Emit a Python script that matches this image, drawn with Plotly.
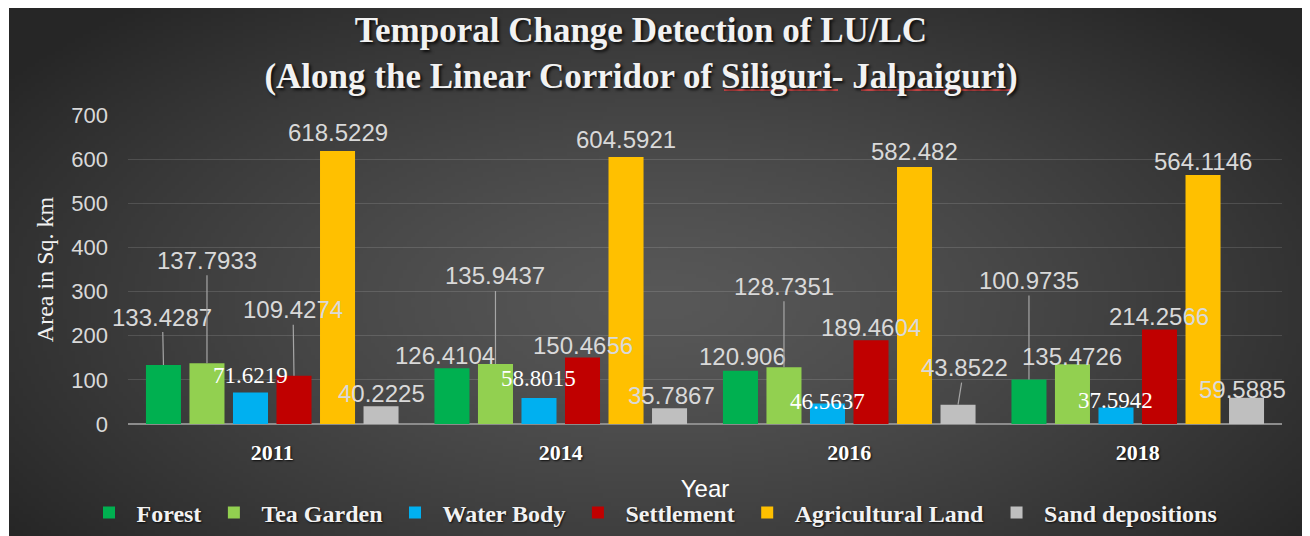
import base64
import struct
import zlib

import numpy as np
import plotly.graph_objects as go

# ---------------- data ----------------
years = ["2011", "2014", "2016", "2018"]
series_names = ["Forest", "Tea Garden", "Water Body", "Settlement",
                "Agricultural Land", "Sand depositions"]
forest = [133.4287, 126.4104, 120.906, 100.9735]
tea_garden = [137.7933, 135.9437, 128.7351, 135.4726]
water_body = [71.6219, 58.8015, 46.5637, 37.5942]
settlement = [109.4274, 150.4656, 189.4604, 214.2566]
agricultural_land = [618.5229, 604.5921, 582.482, 564.1146]
sand_depositions = [40.2225, 35.7867, 43.8522, 59.5885]
y_ticks = [0, 100, 200, 300, 400, 500, 600, 700]

series_values = [forest, tea_garden, water_body, settlement,
                 agricultural_land, sand_depositions]

# ---------------- styles ----------------
colors = ["#00B050", "#92D050", "#00B0F0", "#C00000", "#FFC000", "#BFBFBF"]

W, H = 1310, 536
OFF = 8  # page body margin offset of the figure on screen
ML, MR, MT, MB = 128 - OFF, 28 + OFF, 115 - OFF, 112 + OFF
plot_w = W - ML - MR
plot_h = H - MT - MB

BARGAP = 0.095
BARGROUPGAP = 0.195
cat_w = plot_w / len(years)
slot_w = cat_w * (1 - BARGAP) / len(series_names)

# label offsets (px) of label centre relative to bar top centre: (dx, dy, leader)
label_layout = {
    0: [(-1, -48, True), (-7, -13, False), (2, -14, False), (0, -99, True)],
    1: [(0, -103, True), (0, -88, True), (0, -81, True), (0, -8, False)],
    2: [(0, -17, False), (0, -20, False), (0, -2, False), (0, -7, False)],
    3: [(-1, -66, True), (0, -12, False), (0, -13, False), (-1, -13, False)],
    4: [(0, -18, False), (0, -18, False), (0, -15, False), (0, -13, False)],
    5: [(0, -13, False), (2, -13, False), (6, -37, True), (-4, -8, False)],
}
serif_label_series = {2}


# ---------------- background gradient image ----------------
def make_png(arr):
    h, w, _ = arr.shape
    raw = b"".join(b"\x00" + arr[r].tobytes() for r in range(h))

    def chunk(tag, data):
        c = struct.pack(">I", len(data)) + tag + data
        return c + struct.pack(">I", zlib.crc32(tag + data) & 0xFFFFFFFF)

    png = b"\x89PNG\r\n\x1a\n"
    png += chunk(b"IHDR", struct.pack(">IIBBBBB", w, h, 8, 2, 0, 0, 0))
    png += chunk(b"IDAT", zlib.compress(raw, 9))
    png += chunk(b"IEND", b"")
    return "data:image/png;base64," + base64.b64encode(png).decode()


gw, gh = 327, 132
gx = np.linspace(0, 1, gw)[None, :]
gy = np.linspace(0, 1, gh)[:, None]
d = np.sqrt(((gx - 0.5) / 0.62) ** 2 + ((gy - 0.55) / 0.75) ** 2)
d = np.clip(d, 0, 1)
inner, outer = 88.0, 38.0
val = inner + (outer - inner) * d ** 1.3
img = np.repeat(val[:, :, None], 3, axis=2).astype(np.uint8)
bg_src = make_png(np.ascontiguousarray(img))


# screen pixel -> paper coordinates
def px_x(p):
    return (p - OFF - ML) / plot_w


def px_y(p):
    return (H - MB - (p - OFF)) / plot_h


# ---------------- figure ----------------
fig = go.Figure()
for name, vals, col in zip(series_names, series_values, colors):
    fig.add_trace(go.Bar(name=name, x=years, y=vals, marker_color=col,
                         marker_line_width=0))

annotations = []
for k, vals in enumerate(series_values):
    offset = (k - (len(series_names) - 1) / 2) * slot_w
    for c, v in enumerate(vals):
        dx, dy, leader = label_layout[k][c]
        serif = k in serif_label_series
        font = dict(family="Liberation Serif, Times New Roman, serif",
                    size=23, color="#FFFFFF") if serif else \
            dict(family="Arial, Liberation Sans, sans-serif", size=24,
                 color="#D9D9D9")
        txt = str(v)
        if leader:
            annotations.append(dict(
                x=c, y=v, xref="x", yref="y", text=txt,
                showarrow=True, arrowhead=0, arrowwidth=1.2,
                arrowcolor="#A6A6A6", ax=dx, ay=dy, axref="pixel",
                ayref="pixel", xshift=offset, font=font, standoff=0,
                startstandoff=0))
        else:
            annotations.append(dict(
                x=c, y=v, xref="x", yref="y", text=txt,
                showarrow=False, xshift=offset + dx, yshift=-dy,
                xanchor="center", yanchor="middle", font=font))

# spell-check style underlines beneath the place names in the title
underline_spans = [(724, 838), (861, 1013)]
shapes = [dict(type="line", xref="paper", yref="paper", layer="above",
               x0=px_x(a), x1=px_x(b), y0=px_y(90), y1=px_y(90),
               line=dict(color="rgba(210,70,70,0.9)", width=2))
          for a, b in underline_spans]

fig.update_layout(
    width=W, height=H,
    margin=dict(l=ML, r=MR, t=MT, b=MB, pad=0, autoexpand=False),
    paper_bgcolor="#FFFFFF",
    plot_bgcolor="rgba(0,0,0,0)",
    barmode="group", bargap=BARGAP, bargroupgap=BARGROUPGAP,
    title=dict(
        text="Temporal Change Detection of LU/LC<br>(Along the Linear Corridor of Siliguri- Jalpaiguri)",
        x=(641 - OFF) / W, xref="container", xanchor="center",
        y=1 - 34 / H, yref="container", yanchor="middle",
        font=dict(family="Liberation Serif, Times New Roman, serif", size=35,
                  color="#F2F2F2", weight="bold",
                  shadow="2px 2px 3px rgba(0,0,0,0.8)")),
    xaxis=dict(
        type="category", range=[-0.5, 3.5], automargin=False,
        showgrid=False, showline=False, zeroline=False,
        ticks="", ticklabelstandoff=13,
        tickfont=dict(family="Liberation Serif, Times New Roman, serif",
                      size=22, color="#FFFFFF", weight="bold",
                      shadow="1px 1px 2px rgba(0,0,0,0.8)"),
        title=dict(text="Year", standoff=16,
                   font=dict(family="Arial, Liberation Sans, sans-serif",
                             size=24, color="#FFFFFF"))),
    yaxis=dict(
        range=[0, 700], tickvals=y_ticks, automargin=False, showgrid=True,
        gridcolor="rgba(255,255,255,0.13)", gridwidth=1,
        zeroline=True, zerolinecolor="#8C8C8C", zerolinewidth=2,
        showline=False, ticks="", ticklabelstandoff=19,
        tickfont=dict(family="Arial, Liberation Sans, sans-serif", size=22,
                      color="#D9D9D9"),
        title=dict(text="Area in Sq. km", standoff=10,
                   font=dict(family="Liberation Serif, Times New Roman, serif",
                             size=24, color="#F2F2F2"))),
    legend=dict(
        orientation="h", x=px_x(652), xanchor="center",
        y=px_y(513), yanchor="middle", bgcolor="rgba(0,0,0,0)",
        itemwidth=45, traceorder="normal",
        font=dict(family="Liberation Serif, Times New Roman, serif", size=24,
                  color="#F2F2F2", weight="bold",
                  shadow="1px 1px 2px rgba(0,0,0,0.8)")),
    images=[dict(source=bg_src, xref="paper", yref="paper",
                 x=px_x(9), y=px_y(8), sizex=px_x(W + OFF) - px_x(9),
                 sizey=px_y(8) - px_y(H + OFF), xanchor="left", yanchor="top",
                 sizing="stretch", layer="below")],
    shapes=shapes,
    annotations=annotations,
    showlegend=True,
)

fig.write_html("out.html")
